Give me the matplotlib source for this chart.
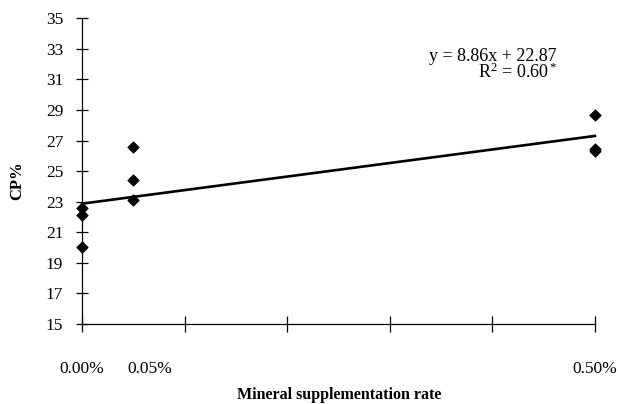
import matplotlib

matplotlib.use("Agg")
import matplotlib.pyplot as plt  # noqa: E402
import numpy as np  # noqa: E402

# ----------------------------------------------------------------------------
# Data
# ----------------------------------------------------------------------------
rate = [0.0, 0.0, 0.0, 0.05, 0.05, 0.05, 0.5, 0.5, 0.5]  # % supplementation
cp = [20.05, 22.1, 22.6, 26.6, 24.4, 23.1, 28.7, 26.45, 26.3]  # CP%
slope, intercept = 8.86, 22.87
label_rates = [0.0, 0.05, 0.5]
label_texts = ["0.00%", "0.05%", "0.50%"]
label_shift = [0, 12, 0]  # label offsets (points) as drawn in the original

plt.rcParams["font.family"] = ["Liberation Serif", "DejaVu Serif"]
plt.rcParams["mathtext.fontset"] = "custom"
plt.rcParams["mathtext.rm"] = "Liberation Serif"
plt.rcParams["mathtext.it"] = "Liberation Serif:italic"

fig = plt.figure(figsize=(6.18, 4.04), dpi=100)
ax = fig.add_axes([0.1327, 0.198, 0.830, 0.757])

ax.scatter(rate, cp, marker="D", s=30, color="black", zorder=3, clip_on=False)
xs = np.array([0.0, 0.5])
ax.plot(xs, slope * xs + intercept, color="black", lw=1.9, clip_on=False)

ax.set_xlim(0, 0.5)
ax.set_ylim(15, 35)
ax.set_yticks(np.arange(15, 36, 2))
ax.set_xticks(np.arange(0, 0.51, 0.1))
ax.set_xticklabels([])
for s in ("top", "right"):
    ax.spines[s].set_visible(False)
for s in ("left", "bottom"):
    ax.spines[s].set_linewidth(0.9)
ax.tick_params(axis="y", direction="inout", length=9, width=0.9, labelsize=12.5, pad=9)
ax.tick_params(axis="x", direction="inout", length=12, width=0.9)

for xv, t, dx in zip(label_rates, label_texts, label_shift):
    ax.annotate(t, xy=(xv, 15), xytext=(dx, -32.5), textcoords="offset points",
                ha="center", va="center", fontsize=12.5, annotation_clip=False)

ax.set_xlabel("Mineral supplementation rate", fontsize=11.5, fontweight="bold", va="center")
ax.xaxis.set_label_coords(0.501, -0.232)
ax.set_ylabel("CP%", fontsize=12, fontweight="bold", va="center")
ax.yaxis.set_label_coords(-0.127, 0.47)

ax.text(0.463, 32.52, f"y = {slope:.2f}x + {intercept:.2f}", ha="right", va="center", fontsize=13)
ax.text(0.463, 31.45, r"R$^2$ = 0.60$^*$", ha="right", va="center", fontsize=13)

fig.savefig("out.png", dpi=100)
plt.close(fig)
